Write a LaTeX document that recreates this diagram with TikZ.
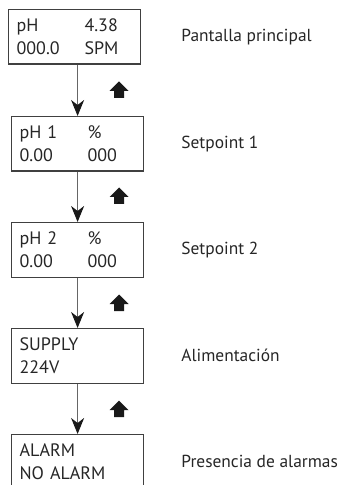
\documentclass[tikz,border=0pt]{standalone}
\usepackage{fontspec}
\setmainfont{PT Sans}
\usepackage{xcolor}
\usetikzlibrary{arrows.meta,calc}

\tikzset{
  display/.style={draw=black!75, line width=0.6pt, anchor=north west,
    minimum width=66pt, minimum height=27.25pt, inner xsep=4pt, inner ysep=0pt,
    text width=58pt, align=left, text=black!85, font=\fontsize{9}{11.5}\selectfont},
  caption/.style={anchor=base west, inner sep=0pt, text=black!85,
    font=\fontsize{8.7}{11}\selectfont},
  down/.style={draw=black!60, line width=0.5pt,
    -{Stealth[length=8pt,width=6.5pt,inset=2.5pt,color=black!90]}},
  uparrow/.pic={\fill[black!90] (0,-8.5) -- (9.5,1) -- (5,1) -- (5,8) -- (-5,8) -- (-5,1) -- (-9.5,1) -- cycle;}
}
\newcommand{\twocol}[2]{\makebox[34pt][l]{#1}#2}

\begin{document}
\begin{tikzpicture}[x=0.5pt,y=-0.5pt]
\useasboundingbox (0,0) rectangle (345,485);

% displays
\node[display] (b1) at (8,9)    {\twocol{pH}{4.38}\\\twocol{000.0}{SPM}};
\node[display] (b2) at (11,116) {\twocol{pH 1}{\%}\\\twocol{0.00}{000}};
\node[display] (b3) at (11,222) {\twocol{pH 2}{\%}\\\twocol{0.00}{000}};
\node[display] (b4) at (11,328) {SUPPLY\\224V};
\node[display] (b5) at (11,434) {ALARM\\NO ALARM};

% captions
\node[caption] (c1) at (181,42)  {Pantalla principal};
\node[caption] (c2) at (181,149) {Setpoint 1};
\node[caption] (c3) at (181,255) {Setpoint 2};
\node[caption] (c4) at (181,361) {Alimentación};
\node[caption] (c5) at (181,467) {Presencia de alarmas};

% navigation
\draw[down] (b2.north |- b1.south) -- (b2.north);
\draw[down] (b2.south) -- (b3.north);
\draw[down] (b3.south) -- (b4.north);
\draw[down] (b4.south) -- (b5.north);
\foreach \y in {90,196,303,409}
  \pic at (119,\y) {uparrow};
\end{tikzpicture}
\end{document}
